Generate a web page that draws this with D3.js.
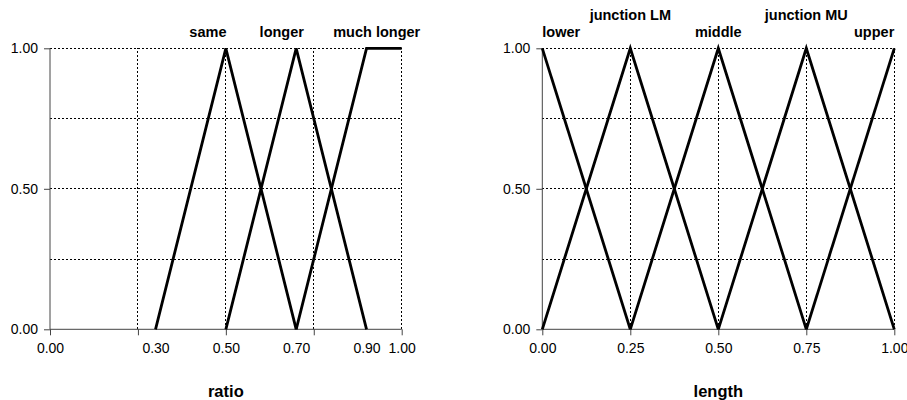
<!DOCTYPE html>
<html><head><meta charset="utf-8">
<script src="https://cdn.jsdelivr.net/npm/d3@7"></script>
<style>
body{margin:0;background:#fff;}
svg{display:block;font-family:"Liberation Sans",Arial,Helvetica,sans-serif;}
</style></head>
<body>
<script>
// ---- data ----
const ratioSeries = [
  {name:"same",        pts:[[0.30,0],[0.50,1],[0.70,0]]},
  {name:"longer",      pts:[[0.50,0],[0.70,1],[0.90,0]]},
  {name:"much longer", pts:[[0.70,0],[0.90,1],[1.00,1]]}
];
const ratioLabels = [
  {text:"same", x:0.449, row:1},
  {text:"longer", x:0.659, row:1},
  {text:"much longer", x:0.929, row:1}
];
const ratioGridX = [0.25,0.5,0.75,1.0];
const ratioTickLabels = [0,0.30,0.50,0.70,0.90,1.00];

const lengthSeries = [
  {name:"lower",       pts:[[0,1],[0.25,0]]},
  {name:"junction LM", pts:[[0,0],[0.25,1],[0.5,0]]},
  {name:"middle",      pts:[[0.25,0],[0.5,1],[0.75,0]]},
  {name:"junction MU", pts:[[0.5,0],[0.75,1],[1,0]]},
  {name:"upper",       pts:[[0.75,0],[1,1]]}
];
const lengthLabels = [
  {text:"lower", x:0, row:1, anchor:"start"},
  {text:"junction LM", x:0.25, row:0, anchor:"middle"},
  {text:"middle", x:0.5, row:1, anchor:"middle"},
  {text:"junction MU", x:0.75, row:0, anchor:"middle"},
  {text:"upper", x:1.0, row:1, anchor:"end"}
];
const lengthGridX = [0.25,0.5,0.75,1.0];
const lengthTickLabels = [0,0.25,0.5,0.75,1.0];

const yTicks = [0,0.5,1];
const yGrid = [0.25,0.5,0.75,1.0];
const xTicks = [0,0.25,0.5,0.75,1.0];

// ---- drawing ----
const W=907,H=400;
const svg=d3.select("body").append("svg").attr("width",W).attr("height",H);
const y=d3.scaleLinear().domain([0,1]).range([329.3,48.3]);

function panel(x0,x1,series,labels,gridX,tickLabels,title,labelAnchor){
  const x=d3.scaleLinear().domain([0,1]).range([x0,x1]);
  const g=svg.append("g");
  // grid
  g.selectAll("line.gy").data(yGrid).join("line")
    .attr("x1",x(0)).attr("x2",x(1)).attr("y1",d=>y(d)).attr("y2",d=>y(d))
    .attr("stroke","#000").attr("stroke-width",1).attr("stroke-dasharray","2,2")
    .attr("shape-rendering","crispEdges");
  g.selectAll("line.gx").data(gridX).join("line")
    .attr("x1",d=>x(d)).attr("x2",d=>x(d)).attr("y1",y(0)).attr("y2",y(1))
    .attr("stroke","#000").attr("stroke-width",1).attr("stroke-dasharray","2,2")
    .attr("shape-rendering","crispEdges");
  // axes
  const ya=g.append("g").attr("transform",`translate(${x(0)},0)`)
    .call(d3.axisLeft(y).tickValues(yTicks).tickFormat(d3.format(".2f")).tickSize(6).tickPadding(6));
  const xa=g.append("g").attr("transform",`translate(0,${y(0)})`)
    .call(d3.axisBottom(x).tickValues(xTicks).tickFormat("").tickSize(6));
  const xl=g.append("g").attr("transform",`translate(0,${y(0)})`)
    .call(d3.axisBottom(x).tickValues(tickLabels).tickFormat(d3.format(".2f")).tickSize(0).tickPadding(14));
  xl.select(".domain").remove();
  [ya,xa,xl].forEach(a=>{
    a.selectAll("text").attr("font-size",14).attr("fill","#000").attr("font-family","Liberation Sans, Arial, sans-serif");
    a.selectAll("path,line").attr("stroke","#444");
  });
  ya.select(".domain").attr("d",`M0,${y(1)}V${y(0)}`);
  xa.select(".domain").attr("d",`M${x(0)},0H${x(1)}`);
  // lines
  const line=d3.line().x(d=>x(d[0])).y(d=>y(d[1]));
  g.selectAll("path.s").data(series).join("path")
    .attr("d",d=>line(d.pts)).attr("fill","none").attr("stroke","#000")
    .attr("stroke-width",2.8).attr("stroke-linejoin","miter");
  // labels
  g.selectAll("text.lbl").data(labels).join("text")
    .attr("x",d=>x(d.x)).attr("y",d=>d.row===0?20:37)
    .attr("text-anchor",d=>d.anchor||labelAnchor)
    .attr("font-size",14.5).attr("font-weight","bold").text(d=>d.text);
  g.append("text").attr("x",(x0+x1)/2).attr("y",397).attr("text-anchor","middle")
    .attr("font-size",16.5).attr("font-weight","bold").text(title);
}
panel(50,401.7,ratioSeries,ratioLabels,ratioGridX,ratioTickLabels,"ratio","middle");
panel(542.3,894.3,lengthSeries,lengthLabels,lengthGridX,lengthTickLabels,"length","middle");
</script>
</body></html>
